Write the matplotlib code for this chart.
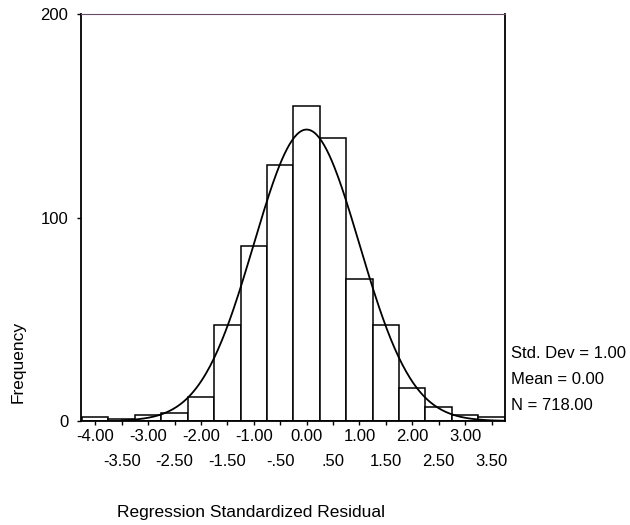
import numpy as np
import matplotlib.pyplot as plt

plt.rcParams['font.family'] = ['Liberation Sans', 'DejaVu Sans']

# bin centres and counts
centers = [-4.0, -3.5, -3.0, -2.5, -2.0, -1.5, -1.0, -0.5, 0.0, 0.5, 1.0, 1.5, 2.0, 2.5, 3.0, 3.5]
counts = [2, 1, 3, 4, 12, 47, 86, 126, 155, 139, 70, 47, 16, 7, 3, 2]
tick_labels = ['-4.00', '-3.50', '-3.00', '-2.50', '-2.00', '-1.50', '-1.00', '-.50',
               '0.00', '.50', '1.00', '1.50', '2.00', '2.50', '3.00', '3.50']

std_dev = 1.00
mean = 0.00
n = 718
bin_w = 0.5

fig = plt.figure(figsize=(6.3, 5.25), dpi=100)
ax = fig.add_axes([81/630, 1-421/525, (505-81)/630, (421-14)/525])

ax.bar(centers, counts, width=bin_w, color='white', edgecolor='black', linewidth=1.1)

# fitted normal curve from the stats shown on the chart
xs = np.linspace(-3.5, 3.75, 300)
ys = n * bin_w / (std_dev * np.sqrt(2 * np.pi)) * np.exp(-0.5 * ((xs - mean) / std_dev) ** 2)
ax.plot(xs, ys, color='black', lw=1.3)

ax.set_xlim(-4.27, 3.755)
ax.set_ylim(0, 200)
ax.set_yticks([0, 100, 200])
# alternate labels on two rows: upper row as major ticks, lower row as minor
ax.set_xticks(centers[0::2])
ax.set_xticklabels(tick_labels[0::2])
ax.set_xticks(centers[1::2], minor=True)
ax.set_xticklabels(tick_labels[1::2], minor=True)
ax.tick_params(axis='both', which='both', direction='out', length=3, width=1, labelsize=12)
ax.tick_params(axis='x', which='major', pad=3)
ax.tick_params(axis='x', which='minor', pad=21)
ax.tick_params(axis='y', pad=6)
for s in ['left', 'bottom', 'right']:
    ax.spines[s].set_linewidth(1.3)
ax.spines['top'].set_linewidth(0.8)
ax.spines['top'].set_color('#6a4a6a')

fig.text(18/630, 1-362/525, 'Frequency', rotation=90, ha='center', va='center', fontsize=12.5)
fig.text(117/630, 1-513/525, 'Regression Standardized Residual', ha='left', va='center', fontsize=12.5)

stats = ['Std. Dev = 1.00', 'Mean = 0.00', 'N = 718.00']
for i, s in enumerate(stats):
    fig.text(511/630, 1-(353 + 26*i)/525, s, ha='left', va='center', fontsize=12)

fig.savefig('out.png', dpi=100)
